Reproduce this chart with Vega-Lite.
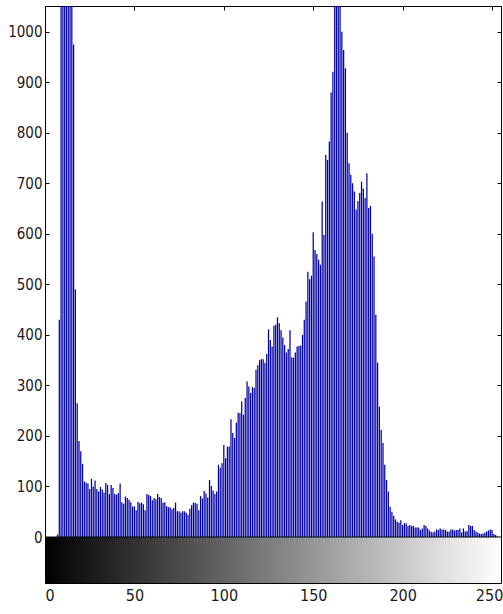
{
  "$schema": "https://vega.github.io/schema/vega-lite/v6.json",
  "width": 456,
  "height": 577,
  "autosize": "none",
  "padding": {"left": 45, "top": 6, "right": 2, "bottom": 31},
  "background": "white",
  "config": {
    "view": {"stroke": "black", "strokeWidth": 1},
    "axis": {"grid": false, "domain": false, "tickColor": "black", "tickWidth": 1, "labelFont": "DejaVu Sans Condensed, Liberation Sans Narrow, Liberation Sans", "labelColor": "#1a1a1a", "title": null, "format": "d"}
  },
  "data": {"values": [
    {"v":0,"c":0},{"v":1,"c":0},{"v":2,"c":0},{"v":3,"c":0},{"v":4,"c":0},{"v":5,"c":0},{"v":6,"c":0},{"v":7,"c":5},
    {"v":8,"c":430},{"v":9,"c":1300},{"v":10,"c":1600},{"v":11,"c":1450},{"v":12,"c":1300},{"v":13,"c":1200},{"v":14,"c":1100},{"v":15,"c":1060},
    {"v":16,"c":975},{"v":17,"c":490},{"v":18,"c":265},{"v":19,"c":190},{"v":20,"c":170},{"v":21,"c":145},{"v":22,"c":110},{"v":23,"c":108},
    {"v":24,"c":106},{"v":25,"c":95},{"v":26,"c":115},{"v":27,"c":100},{"v":28,"c":112},{"v":29,"c":95},{"v":30,"c":90},{"v":31,"c":99},
    {"v":32,"c":94},{"v":33,"c":88},{"v":34,"c":107},{"v":35,"c":103},{"v":36,"c":85},{"v":37,"c":103},{"v":38,"c":97},{"v":39,"c":85},
    {"v":40,"c":84},{"v":41,"c":87},{"v":42,"c":106},{"v":43,"c":69},{"v":44,"c":66},{"v":45,"c":80},{"v":46,"c":77},{"v":47,"c":74},
    {"v":48,"c":69},{"v":49,"c":60},{"v":50,"c":61},{"v":51,"c":53},{"v":52,"c":70},{"v":53,"c":67},{"v":54,"c":68},{"v":55,"c":65},
    {"v":56,"c":53},{"v":57,"c":85},{"v":58,"c":83},{"v":59,"c":81},{"v":60,"c":73},{"v":61,"c":77},{"v":62,"c":75},{"v":63,"c":85},
    {"v":64,"c":79},{"v":65,"c":77},{"v":66,"c":68},{"v":67,"c":69},{"v":68,"c":61},{"v":69,"c":59},{"v":70,"c":59},{"v":71,"c":55},
    {"v":72,"c":58},{"v":73,"c":68},{"v":74,"c":51},{"v":75,"c":51},{"v":76,"c":48},{"v":77,"c":51},{"v":78,"c":51},{"v":79,"c":48},
    {"v":80,"c":44},{"v":81,"c":56},{"v":82,"c":63},{"v":83,"c":68},{"v":84,"c":68},{"v":85,"c":66},{"v":86,"c":53},{"v":87,"c":81},
    {"v":88,"c":76},{"v":89,"c":91},{"v":90,"c":86},{"v":91,"c":78},{"v":92,"c":113},{"v":93,"c":101},{"v":94,"c":92},{"v":95,"c":85},
    {"v":96,"c":90},{"v":97,"c":143},{"v":98,"c":137},{"v":99,"c":146},{"v":100,"c":182},{"v":101,"c":156},{"v":102,"c":179},{"v":103,"c":179},
    {"v":104,"c":233},{"v":105,"c":206},{"v":106,"c":196},{"v":107,"c":226},{"v":108,"c":246},{"v":109,"c":245},{"v":110,"c":268},{"v":111,"c":242},
    {"v":112,"c":275},{"v":113,"c":308},{"v":114,"c":298},{"v":115,"c":285},{"v":116,"c":297},{"v":117,"c":295},{"v":118,"c":331},{"v":119,"c":340},
    {"v":120,"c":350},{"v":121,"c":352},{"v":122,"c":352},{"v":123,"c":345},{"v":124,"c":362},{"v":125,"c":411},{"v":126,"c":390},{"v":127,"c":377},
    {"v":128,"c":418},{"v":129,"c":420},{"v":130,"c":435},{"v":131,"c":423},{"v":132,"c":409},{"v":133,"c":395},{"v":134,"c":380},{"v":135,"c":365},
    {"v":136,"c":372},{"v":137,"c":409},{"v":138,"c":356},{"v":139,"c":355},{"v":140,"c":365},{"v":141,"c":377},{"v":142,"c":378},{"v":143,"c":379},
    {"v":144,"c":400},{"v":145,"c":430},{"v":146,"c":466},{"v":147,"c":525},{"v":148,"c":510},{"v":149,"c":517},{"v":150,"c":603},{"v":151,"c":568},
    {"v":152,"c":560},{"v":153,"c":549},{"v":154,"c":539},{"v":155,"c":664},{"v":156,"c":598},{"v":157,"c":756},{"v":158,"c":746},{"v":159,"c":783},
    {"v":160,"c":880},{"v":161,"c":921},{"v":162,"c":1100},{"v":163,"c":1200},{"v":164,"c":1150},{"v":165,"c":1060},{"v":166,"c":1000},{"v":167,"c":964},
    {"v":168,"c":928},{"v":169,"c":800},{"v":170,"c":740},{"v":171,"c":717},{"v":172,"c":700},{"v":173,"c":684},{"v":174,"c":648},{"v":175,"c":665},
    {"v":176,"c":681},{"v":177,"c":703},{"v":178,"c":690},{"v":179,"c":671},{"v":180,"c":720},{"v":181,"c":651},{"v":182,"c":655},{"v":183,"c":600},
    {"v":184,"c":555},{"v":185,"c":440},{"v":186,"c":345},{"v":187,"c":258},{"v":188,"c":212},{"v":189,"c":186},{"v":190,"c":143},{"v":191,"c":113},
    {"v":192,"c":90},{"v":193,"c":60},{"v":194,"c":50},{"v":195,"c":42},{"v":196,"c":35},{"v":197,"c":30},{"v":198,"c":28},{"v":199,"c":33},
    {"v":200,"c":24},{"v":201,"c":28},{"v":202,"c":27},{"v":203,"c":22},{"v":204,"c":24},{"v":205,"c":22},{"v":206,"c":22},{"v":207,"c":19},
    {"v":208,"c":19},{"v":209,"c":19},{"v":210,"c":14},{"v":211,"c":17},{"v":212,"c":24},{"v":213,"c":22},{"v":214,"c":17},{"v":215,"c":13},
    {"v":216,"c":10},{"v":217,"c":9},{"v":218,"c":11},{"v":219,"c":15},{"v":220,"c":14},{"v":221,"c":17},{"v":222,"c":15},{"v":223,"c":15},
    {"v":224,"c":14},{"v":225,"c":11},{"v":226,"c":11},{"v":227,"c":15},{"v":228,"c":15},{"v":229,"c":13},{"v":230,"c":14},{"v":231,"c":14},
    {"v":232,"c":17},{"v":233,"c":9},{"v":234,"c":17},{"v":235,"c":11},{"v":236,"c":12},{"v":237,"c":24},{"v":238,"c":22},{"v":239,"c":22},
    {"v":240,"c":14},{"v":241,"c":11},{"v":242,"c":9},{"v":243,"c":7},{"v":244,"c":6},{"v":245,"c":7},{"v":246,"c":9},{"v":247,"c":11},
    {"v":248,"c":13},{"v":249,"c":15},{"v":250,"c":14},{"v":251,"c":6},{"v":252,"c":4},{"v":253,"c":1},{"v":254,"c":0},{"v":255,"c":0}
  ]},
  "resolve": {"axis": {"x": "independent", "y": "independent"}},
  "layer": [
    {
      "transform": [{"filter": "datum.v == 0"}],
      "mark": {"type": "rect", "color": {"gradient": "linear", "x1": 0, "x2": 1, "y1": 0, "y2": 0, "stops": [{"offset": 0, "color": "black"}, {"offset": 1, "color": "white"}]}},
      "encoding": {
        "x": {"datum": 0, "type": "quantitative", "scale": {"domain": [0, 255], "nice": false, "zero": false}, "axis": null},
        "x2": {"datum": 255},
        "y": {"datum": -91, "type": "quantitative", "scale": {"domain": [-91, 1051], "nice": false, "zero": false}, "axis": null},
        "y2": {"datum": 0}
      }
    },
    {
      "mark": {"type": "rule", "color": "#0000a8", "strokeWidth": 1.25, "clip": true},
      "encoding": {
        "x": {"field": "v", "type": "quantitative", "scale": {"domain": [0, 255], "nice": false, "zero": false}, "axis": {"orient": "bottom", "offset": -4, "tickSize": 4, "values": [0, 50, 100, 150, 200, 250], "labelFontSize": 16, "labelPadding": 4, "labelOffset": {"condition": {"test": "datum.value == 250", "value": -3}, "value": 0}}},
        "y": {"field": "c", "type": "quantitative", "scale": {"domain": [-91, 1051], "nice": false, "zero": false}, "axis": {"orient": "left", "offset": -4, "tickSize": 4, "values": [0, 100, 200, 300, 400, 500, 600, 700, 800, 900, 1000], "labelFontSize": 15, "labelPadding": 3}},
        "y2": {"datum": 0}
      }
    },
    {
      "mark": {"type": "point", "opacity": 0},
      "encoding": {
        "x": {"field": "v", "type": "quantitative", "scale": {"domain": [0, 255], "nice": false, "zero": false}, "axis": {"orient": "top", "offset": -4, "tickSize": 4, "values": [50, 100, 150, 200, 250], "labels": false}},
        "y": {"field": "c", "type": "quantitative", "scale": {"domain": [-91, 1051], "nice": false, "zero": false}, "axis": {"orient": "right", "offset": -4, "tickSize": 4, "values": [100, 200, 300, 400, 500, 600, 700, 800, 900, 1000], "labels": false}}
      }
    },
    {
      "transform": [{"filter": "datum.v == 0"}],
      "mark": {"type": "point", "opacity": 0},
      "encoding": {
        "x": {"field": "v", "type": "quantitative", "scale": {"domain": [0, 255], "nice": false, "zero": false}, "axis": {"orient": "bottom", "offset": -46, "tickSize": 4, "values": [50, 100, 150, 200, 250], "labels": false}},
        "y": {"field": "c", "type": "quantitative", "scale": {"domain": [-91, 1051], "nice": false, "zero": false}, "axis": null}
      }
    },
    {
      "transform": [{"filter": "datum.v == 0"}],
      "mark": {"type": "rule", "color": "black", "strokeWidth": 1},
      "encoding": {
        "y": {"datum": 0, "type": "quantitative", "scale": {"domain": [-91, 1051], "nice": false, "zero": false}, "axis": null}
      }
    }
  ]
}
